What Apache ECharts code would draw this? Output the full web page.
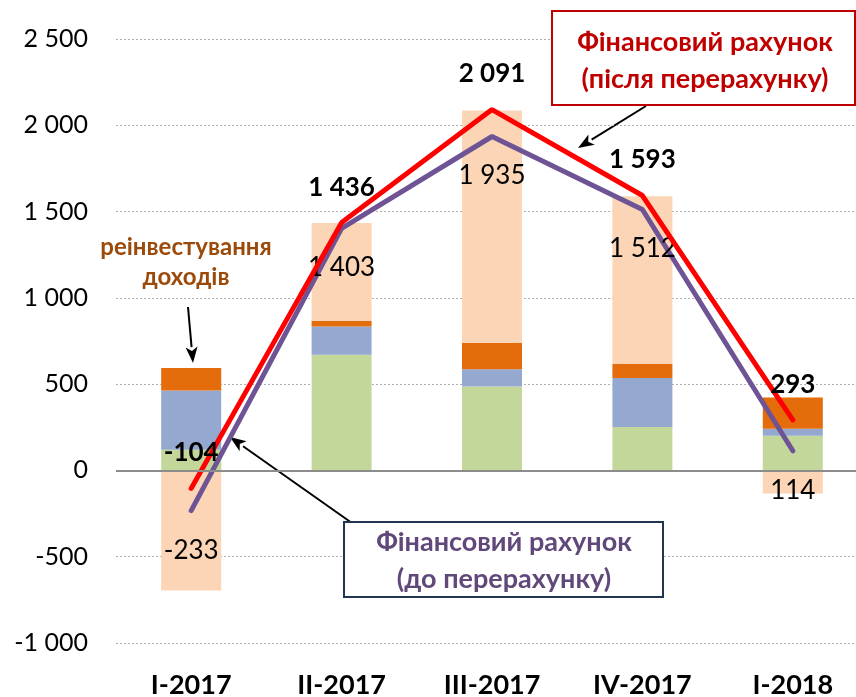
<!DOCTYPE html>
<html>
<head>
<meta charset="utf-8">
<script src="https://cdn.jsdelivr.net/npm/echarts@6/dist/echarts.min.js"></script>
<style>
	html, body { margin: 0; padding: 0; background: #fff; }
	#chart { width: 856px; height: 697px; }
</style>
</head>
<body>
<div id="chart"></div>
<script>
// data
const categories = ['I-2017', 'II-2017', 'III-2017', 'IV-2017', 'I-2018']
const greenPart = [120, 670, 486, 251, 201]
const bluePart = [343, 164, 100, 285, 40]
const orangePart = [130, 33, 152, 81, 181]
const peachPart = [-696, 567, 1348, 972, -133]
const finAfter = [-104, 1436, 2091, 1593, 293]   // після перерахунку
const finBefore = [-233, 1403, 1935, 1512, 114]  // до перерахунку

const FONT = 'Lato, "Open Sans", sans-serif'

const fmt = (v) => String(v).replace(/\B(?=(\d{3})+(?!\d))/g, ' ')

const chart = echarts.init(document.getElementById('chart'))

const barSeries = (name, data, color) => ({
	name: name,
	type: 'bar',
	stack: 'total',
	barWidth: 60,
	data: data,
	itemStyle: { color: color },
	silent: true
})

// arrow: line + triangle head pointing at (x2, y2)
const arrow = (x1, y1, x2, y2) => {
	const a = Math.atan2(y2 - y1, x2 - x1)
	const len = 16, half = 6
	const bx = x2 - len * Math.cos(a), by = y2 - len * Math.sin(a)
	const px = -Math.sin(a) * half, py = Math.cos(a) * half
	return [
		{ type: 'line', shape: { x1: x1, y1: y1, x2: bx, y2: by }, style: { stroke: '#000', lineWidth: 2 } },
		{ type: 'polygon', shape: { points: [[x2, y2], [bx + px, by + py], [bx + 4 * Math.cos(a), by + 4 * Math.sin(a)], [bx - px, by - py]] }, style: { fill: '#000' } }
	]
}

const option = {
	animation: false,
	textStyle: { fontFamily: FONT },
	grid: { left: 116, top: 39, width: 752, height: 604, outerBoundsMode: 'none' },
	xAxis: {
		type: 'category',
		data: categories,
		axisLine: { show: false, onZero: false },
		axisTick: { show: false },
		axisLabel: { color: '#000', fontWeight: 'bold', fontSize: 27, margin: 29, fontFamily: FONT }
	},
	yAxis: {
		type: 'value',
		min: -1000,
		max: 2500,
		interval: 500,
		axisLine: { show: false },
		axisTick: { show: false },
		axisLabel: { color: '#000', fontSize: 25, margin: 28, formatter: fmt, fontFamily: FONT },
		splitLine: { lineStyle: { color: '#b0b0b0', type: [2, 2], width: 1 } }
	},
	series: [
		Object.assign(barSeries('green', greenPart, '#c4d79b'), {
			markLine: {
				silent: true,
				symbol: 'none',
				label: { show: false },
				lineStyle: { color: '#8c8c8c', type: 'solid', width: 2 },
				data: [{ yAxis: 0 }]
			}
		}),
		barSeries('blue', bluePart, '#95a9d0'),
		barSeries('orange', orangePart, '#e46c0a'),
		barSeries('peach', peachPart, '#fbd5b5'),
		{
			name: 'before',
			type: 'line',
			data: finBefore,
			symbol: 'circle',
			symbolSize: 1,
			itemStyle: { color: '#6e5494' },
			lineStyle: { color: '#6e5494', width: 5, cap: 'round' },
			label: {
				show: true,
				position: 'bottom',
				distance: 26,
				color: '#000',
				fontSize: 26,
				fontFamily: FONT,
				formatter: (p) => fmt(p.value)
			},
			z: 3
		},
		{
			name: 'after',
			type: 'line',
			data: finAfter,
			symbol: 'circle',
			symbolSize: 1,
			itemStyle: { color: '#ff0000' },
			lineStyle: { color: '#ff0000', width: 5, cap: 'round' },
			label: {
				show: true,
				position: 'top',
				distance: 22,
				color: '#000',
				fontSize: 26,
				fontWeight: 'bold',
				fontFamily: FONT,
				formatter: (p) => fmt(p.value)
			},
			z: 4
		}
	],
	graphic: [
		// reinvested earnings note
		{
			type: 'text', x: 186, y: 262,
			style: {
				text: 'реінвестування\nдоходів',
				fill: '#9c4a0a', font: 'bold 24px ' + FONT,
				align: 'center', verticalAlign: 'middle', lineHeight: 30
			}
		},
		...arrow(188, 307, 193, 363),
		// red callout
		{
			type: 'rect', shape: { x: 552, y: 11, width: 303, height: 94 },
			style: { fill: '#fff', stroke: '#c00000', lineWidth: 2 }, z: 10
		},
		{
			type: 'text', x: 705, y: 61, z: 11,
			style: {
				text: 'Фінансовий рахунок\n(після перерахунку)',
				fill: '#c00000', font: 'bold 27px ' + FONT,
				align: 'center', verticalAlign: 'middle', lineHeight: 37
			}
		},
		...arrow(646, 106, 578, 148),
		// purple callout
		{
			type: 'rect', shape: { x: 344, y: 522, width: 319, height: 75 },
			style: { fill: '#fff', stroke: '#1f3550', lineWidth: 2 }, z: 10
		},
		{
			type: 'text', x: 504, y: 561, z: 11,
			style: {
				text: 'Фінансовий рахунок\n(до перерахунку)',
				fill: '#60497a', font: 'bold 27px ' + FONT,
				align: 'center', verticalAlign: 'middle', lineHeight: 37
			}
		},
		...arrow(359, 528, 230, 437)
	]
}

chart.setOption(option)
</script>
</body>
</html>
